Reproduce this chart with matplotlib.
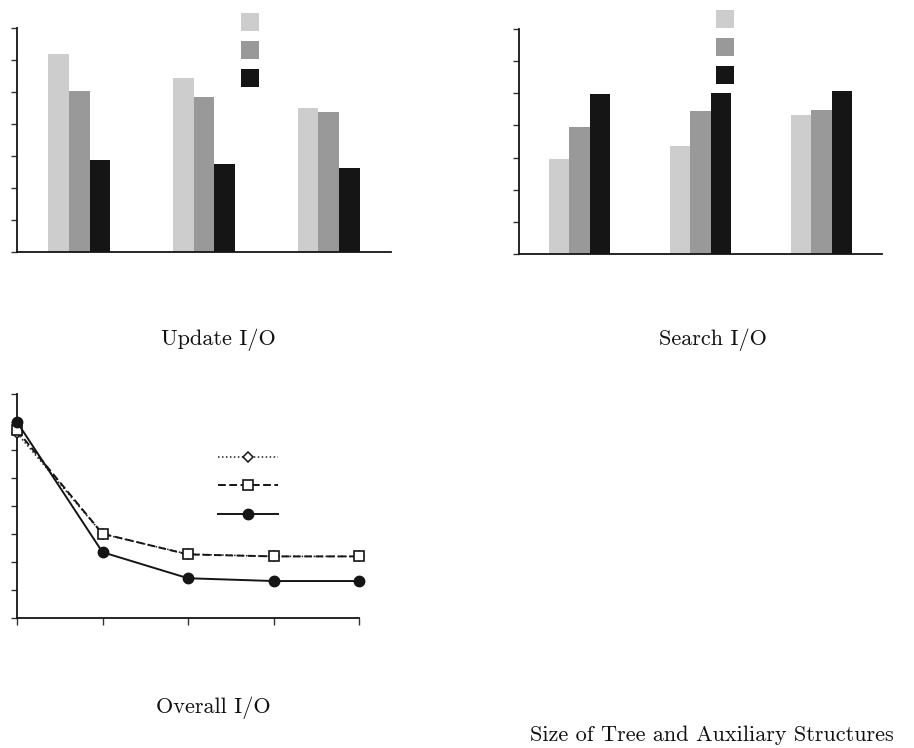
import matplotlib
matplotlib.use("Agg")
import matplotlib.pyplot as plt
from matplotlib.patches import Patch
from matplotlib.lines import Line2D
import numpy as np

# ---- data ----
bar_groups = [0, 1, 2]
update_light = [6.18, 5.44, 4.50]
update_gray = [5.02, 4.83, 4.37]
update_black = [2.88, 2.75, 2.61]

search_light = [2.96, 3.36, 4.33]
search_gray = [3.96, 4.45, 4.49]
search_black = [4.98, 5.01, 5.08]

line_x = [0, 1, 2, 3, 4]
overall_diamond = [6.60, 3.00, 2.28, 2.20, 2.20]
overall_square = [6.70, 3.01, 2.27, 2.20, 2.20]
overall_circle = [7.00, 2.35, 1.42, 1.32, 1.32]

titles = ["Update I/O", "Search I/O", "Overall I/O",
          "Size of Tree and Auxiliary Structures"]

bar_colors = ["#cdcdcd", "#999999", "#151515"]
W, H = 914, 748

fig = plt.figure(figsize=(W / 100, H / 100), dpi=100)


def px_axes(l, r, t, b):
    return fig.add_axes([l / W, 1 - b / H, (r - l) / W, (b - t) / H])


def style_axes(ax, xticks=False):
    for s in ["top", "right"]:
        ax.spines[s].set_visible(False)
    for s in ["left", "bottom"]:
        ax.spines[s].set_linewidth(1.3)
        ax.spines[s].set_color("#151515")
    ax.tick_params(axis="y", direction="out", length=4, width=1.0,
                   color="#333333", labelleft=False)
    if xticks:
        ax.tick_params(axis="x", direction="out", length=5, width=1.0,
                       color="#333333", labelbottom=False)
    else:
        ax.tick_params(axis="x", length=0, labelbottom=False)


def bar_chart(ax, light, gray, black, legend_anchor):
    w = 0.166
    x = np.array(bar_groups, dtype=float)
    for off, vals, c in zip([-w, 0, w], [light, gray, black], bar_colors):
        ax.bar(x + off, vals, width=w, color=c, linewidth=0)
    ax.set_xlim(-0.5, 2.5)
    ax.set_ylim(0, 7)
    ax.set_yticks(range(0, 8))
    ax.set_xticks([])
    style_axes(ax)
    handles = [Patch(facecolor=c, edgecolor="none") for c in bar_colors]
    fig.legend(handles, ["", "", ""], loc="upper left",
               bbox_to_anchor=(legend_anchor[0] / W, 1 - legend_anchor[1] / H),
               frameon=False, fontsize=10, handlelength=1.3, handleheight=1.623,
               handletextpad=0, borderpad=0, borderaxespad=0, labelspacing=0.72)


ax1 = px_axes(17, 391, 28, 252)
bar_chart(ax1, update_light, update_gray, update_black, (241, 13))

ax2 = px_axes(519, 882, 29, 254)
bar_chart(ax2, search_light, search_gray, search_black, (716, 10))

ax3 = px_axes(17, 359, 394, 618)
l1, = ax3.plot(line_x, overall_diamond, color="#222222", lw=1.1,
               linestyle=(0, (1, 1.6)), marker="D", ms=5,
               mfc="white", mec="#151515", mew=1.1, clip_on=False, zorder=3)
l2, = ax3.plot(line_x, overall_square, color="#151515", lw=1.4,
               linestyle=(0, (4, 1.8)), marker="s", ms=7,
               mfc="white", mec="#151515", mew=1.2, clip_on=False, zorder=4)
l3, = ax3.plot(line_x, overall_circle, color="#151515", lw=1.4,
               linestyle="-", marker="o", ms=7.5,
               mfc="#151515", mec="#151515", clip_on=False, zorder=5)
ax3.set_xlim(0, 4)
ax3.set_ylim(0, 8)
ax3.set_xticks(line_x)
ax3.set_yticks(range(0, 9))
style_axes(ax3, xticks=True)
fig.legend([l1, l2, l3], ["", "", ""], loc="upper left",
           bbox_to_anchor=(218 / W, 1 - 451 / H),
           frameon=False, fontsize=10, handlelength=4.32, handleheight=1.0,
           handletextpad=0, borderpad=0, borderaxespad=0, labelspacing=1.05)

tfont = dict(fontfamily="cmr10", fontsize=16, ha="center", va="center",
             color="#111111")
fig.text(218 / W, 1 - 340 / H, titles[0], **tfont)
fig.text(713 / W, 1 - 340 / H, titles[1], **tfont)
fig.text(213 / W, 1 - 708 / H, titles[2], **tfont)
fig.text(712 / W, 1 - 735 / H, titles[3], **tfont)

fig.savefig("out.png", dpi=100)
